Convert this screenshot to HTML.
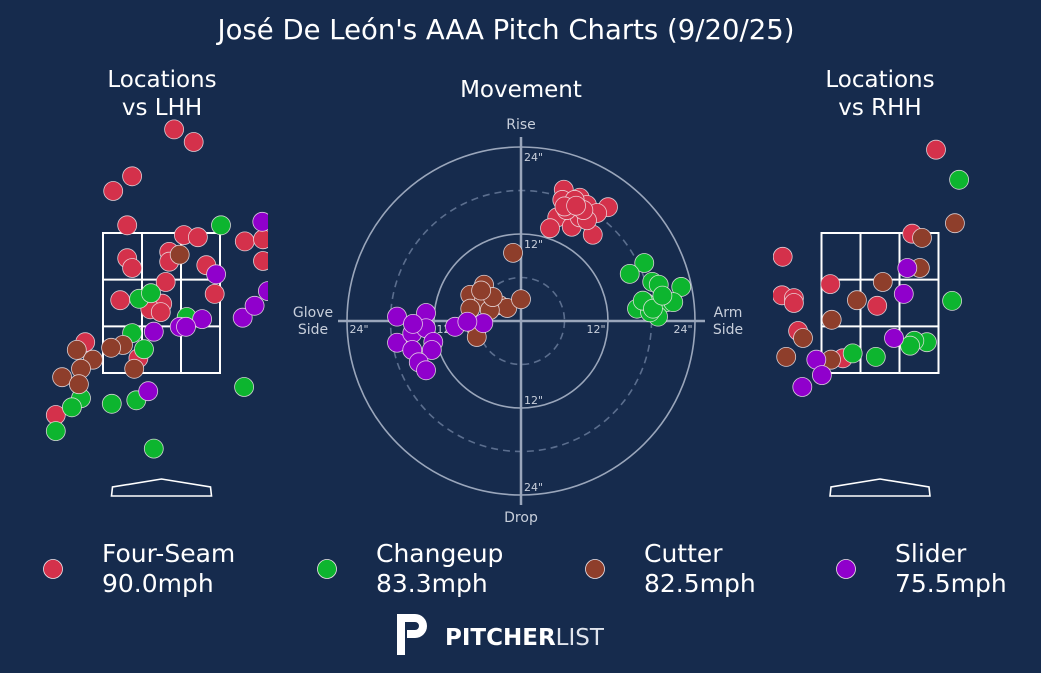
<!DOCTYPE html>
<html><head><meta charset="utf-8"><style>
body{margin:0;background:#162b4d;width:1041px;height:673px;overflow:hidden}
svg{display:block;font-family:"DejaVu Sans","Liberation Sans",sans-serif}
</style></head><body>
<svg id="c" width="1041" height="673">
<rect width="1041" height="673" fill="#162b4d"/>
<text x="506" y="39" text-anchor="middle" fill="#fff" font-size="27.5">José De León's AAA Pitch Charts (9/20/25)</text>
<text x="162" y="87" text-anchor="middle" fill="#fff" font-size="23">Locations</text>
<text x="162" y="115" text-anchor="middle" fill="#fff" font-size="23">vs LHH</text>
<text x="521" y="97" text-anchor="middle" fill="#fff" font-size="23">Movement</text>
<text x="880" y="87" text-anchor="middle" fill="#fff" font-size="23">Locations</text>
<text x="880" y="115" text-anchor="middle" fill="#fff" font-size="23">vs RHH</text>
<defs>
<clipPath id="clL"><rect x="44" y="110" width="224" height="380"/></clipPath>
<clipPath id="clR"><rect x="773" y="110" width="224" height="380"/></clipPath>
</defs>
<g id="left" clip-path="url(#clL)"></g>
<g id="right" clip-path="url(#clR)"></g>
<g id="mov"></g>
<g id="legend"></g>
<g>
<path d="M397 614 h18 a12 12 0 0 1 0 24 h-8 v-8 h8 a4 4 0 0 0 0 -8 h-10 v33 h-8 z" fill="#fff"/>
<text x="445" y="645" fill="#fff" font-size="23" font-weight="bold">PITCHER<tspan font-weight="normal" fill="#e0e4ec">LIST</tspan></text>
</g>
</svg>
<script>
const NS="http://www.w3.org/2000/svg";
const pitchTypes=["Four-Seam","Changeup","Cutter","Slider"];
const pitchSpeeds=["90.0mph","83.3mph","82.5mph","75.5mph"];
const colors=["#d4314b","#0db52f","#8e3e2b","#9000cc"];
// locations vs LHH: [x ft (catcher view), z ft]
const lhhFour=[[0.18,4.98],[0.46,4.8],[-0.42,4.31],[-0.69,4.1],[-0.49,3.61],[0.32,3.47],[0.52,3.44],[-0.49,3.14],[-0.42,3.0],[0.11,3.23],[0.11,3.09],[0.64,3.04],[0.06,2.8],[-0.59,2.54],[0.76,2.63],[0.01,2.49],[-0.16,2.41],[-0.01,2.37],[-1.09,1.94],[-0.33,1.71],[1.19,3.38],[1.45,3.41],[1.45,3.1],[-1.51,0.9]];
const lhhChange=[[0.85,3.61],[-0.32,2.56],[-0.15,2.64],[0.36,2.3],[-0.42,2.07],[-0.25,1.84],[1.18,1.3],[-1.15,1.14],[-1.28,1.01],[-0.71,1.06],[-0.36,1.11],[-1.51,0.67],[-0.11,0.42]];
const lhhCutter=[[0.26,3.19],[-0.55,1.9],[-0.72,1.86],[-1.21,1.83],[-0.98,1.69],[-1.15,1.56],[-1.42,1.44],[-1.18,1.34],[-0.39,1.56]];
const lhhSlider=[[1.44,3.66],[0.78,2.91],[1.16,2.29],[1.33,2.46],[1.52,2.67],[0.58,2.27],[0.26,2.16],[0.35,2.16],[-0.11,2.09],[-0.19,1.24]];
// locations vs RHH
const rhhFour=[[0.8,4.69],[-1.39,3.16],[-1.4,2.61],[-1.23,2.57],[-1.23,2.5],[0.46,3.49],[-0.71,2.77],[-0.04,2.46],[-1.17,2.1],[-0.53,1.71]];
const rhhChange=[[1.13,4.26],[1.03,2.53],[-0.39,1.78],[-0.06,1.73],[0.67,1.94],[0.49,1.96],[0.43,1.89]];
const rhhCutter=[[1.07,3.64],[0.6,3.43],[0.57,3.0],[0.04,2.8],[-0.33,2.54],[-0.69,2.26],[-1.1,2.0],[-1.34,1.73],[-0.7,1.69]];
const rhhSlider=[[0.39,3.0],[0.34,2.63],[0.2,2.0],[-0.91,1.69],[-0.83,1.47],[-1.11,1.3]];
// movement: [horizontal break in, induced vertical break in]
const movFour=[[5.9,18.1],[8.1,17.0],[7.0,16.0],[9.1,16.0],[12.0,15.7],[5.0,14.3],[4.0,12.8],[7.0,13.0],[9.9,11.9],[8.1,14.3],[10.5,14.9],[5.7,16.7],[6.3,15.3],[9.1,13.9],[7.4,16.7],[8.6,15.3],[6.0,15.8],[7.6,15.9]];
const movChange=[[17.0,8.0],[15.0,6.5],[18.1,5.4],[22.1,4.7],[19.0,5.0],[17.1,2.6],[20.1,2.6],[16.0,1.7],[18.9,0.6],[21.0,2.6],[17.8,1.2],[16.8,2.8],[18.2,1.7],[19.5,3.5]];
const movCutter=[[-1.1,9.4],[-5.1,5.0],[-7.0,3.6],[-5.1,2.9],[-3.0,2.2],[-1.9,1.8],[0,3.0],[-7.0,1.7],[-6.1,-1.1],[-6.1,-2.2],[-4.3,1.5],[-3.9,3.3],[-5.5,4.2]];
const movSlider=[[-9.1,-0.8],[-5.2,-0.3],[-7.4,-0.1],[-17.1,0.6],[-13.1,1.1],[-17.1,-3.0],[-15.0,-1.7],[-13.1,-1.0],[-12.1,-2.9],[-12.3,-4.0],[-15.0,-4.0],[-14.1,-5.7],[-13.1,-6.8],[-14.9,-0.4]];
const ringTicks=[6,12,18,24];

function el(t,a,p){const e=document.createElementNS(NS,t);for(const k in a)e.setAttribute(k,a[k]);p.appendChild(e);return e;}
const FT=70;
function locX(cx,v){return cx+v*FT;}
function locY(v){return 373-(v-1.5)*FT;}
function dot(g,x,y,c){const d=el("circle",{cx:x,cy:y,r:9.5,fill:c,stroke:"#f0e6ea","stroke-width":0.8,"stroke-opacity":0.85},g);

}
function zone(g,cx){
  const x0=cx-58.5,w=117,y0=233,h=140;
  el("rect",{x:x0,y:y0,width:w,height:h,fill:"none",stroke:"#fff","stroke-width":2},g);
  for(let i=1;i<3;i++){el("line",{x1:x0+w*i/3,x2:x0+w*i/3,y1:y0,y2:y0+h,stroke:"#fff","stroke-width":2},g);
  el("line",{x1:x0,x2:x0+w,y1:y0+h*i/3,y2:y0+h*i/3,stroke:"#fff","stroke-width":2},g);}
  const p=el("polygon",{points:`${cx-50},496 ${cx-49},487 ${cx},479 ${cx+49},487 ${cx+50},496`,fill:"none",stroke:"#fff","stroke-width":1.6},g.parentNode);
  
  
}
function panel(id,cx,sets){
  const g=document.getElementById(id);zone(g,cx);
  sets.forEach((s,i)=>s.forEach(p=>dot(g,locX(cx,p[0]),locY(p[1]),colors[i])));
}
panel("left",161.5,[lhhFour,lhhChange,lhhCutter,lhhSlider]);
panel("right",880,[rhhFour,rhhChange,rhhCutter,rhhSlider]);

// movement
const MC={x:521,y:321},S=7.25;
function mx(v){return MC.x+v*S;} function my(v){return MC.y-v*S;}
const mg=document.getElementById("mov");
ringTicks.forEach(r=>{el("circle",{cx:MC.x,cy:MC.y,r:r*S,fill:"none",stroke:r%12?"#5b6e8e":"#9aa6bb","stroke-width":1.6,"stroke-dasharray":r%12?"7,5":"none"},mg);});
el("line",{x1:MC.x,x2:MC.x,y1:137,y2:505,stroke:"#9aa6bb","stroke-width":2.5},mg);
el("line",{x1:338,x2:705,y1:MC.y,y2:MC.y,stroke:"#9aa6bb","stroke-width":2.5},mg);
const lab=(x,y,t,s,a)=>{const e=el("text",{x:x,y:y,fill:"#c8cfdb","font-size":s,"text-anchor":a||"middle"},mg);e.textContent=t;return e;};
[12,24].forEach(r=>{
  lab(MC.x+3,my(r)+14,r+'"',11,"start");lab(MC.x+3,my(-r)-4,r+'"',11,"start");
  lab(mx(-r)+12,MC.y+12,r+'"',11);lab(mx(r)-12,MC.y+12,r+'"',11);
});
lab(521,129,"Rise",14);lab(521,522,"Drop",14);
lab(313,317,"Glove",14);lab(313,334,"Side",14);lab(728,317,"Arm",14);lab(728,334,"Side",14);
[movCutter,movSlider,movChange,movFour].forEach((s,j)=>{const i=[2,3,1,0][j];s.forEach(p=>dot(mg,mx(p[0]),my(p[1]),colors[i]));});

// legend
const lg=document.getElementById("legend");const lx=[53,327,595,846],tx=[102,376,644,895];
pitchTypes.forEach((n,i)=>{
  const c=el("circle",{cx:lx[i],cy:569,r:9.5,fill:colors[i],stroke:"#f0e6ea","stroke-width":0.8},lg);
  
  
  const t=el("text",{x:tx[i],y:562,fill:"#fff","font-size":25},lg);t.textContent=n;
  
  
  const t2=el("text",{x:tx[i],y:592,fill:"#fff","font-size":25},lg);t2.textContent=pitchSpeeds[i];
  
  
});
</script>
</body></html>
